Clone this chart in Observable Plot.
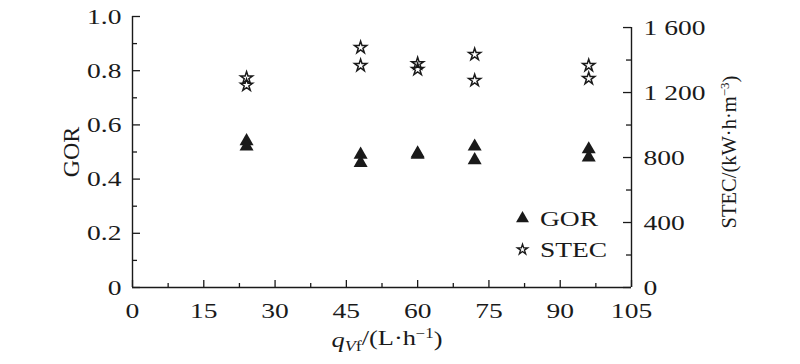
<!DOCTYPE html>
<html><head><meta charset="utf-8">
<script src="https://cdn.jsdelivr.net/npm/d3@7"></script>
<script src="https://cdn.jsdelivr.net/npm/@observablehq/plot@0.6"></script>
<style>body{margin:0;background:#fff}</style>
</head><body><div id="chart"></div>
<script>
const flowRates = [24, 24, 48, 48, 60, 60, 72, 72, 96, 96];
const gorValues = [0.54, 0.52, 0.49, 0.46, 0.495, 0.49, 0.52, 0.47, 0.51, 0.48];
const stecValues = [1290, 1245, 1477, 1366, 1378, 1342, 1434, 1274, 1366, 1286];
const xTicks = [0, 15, 30, 45, 60, 75, 90, 105];
const gorTicks = [0, 0.2, 0.4, 0.6, 0.8, 1.0];
const stecTicks = [0, 400, 800, 1200, 1600];
const xMinor = [7.5, 22.5, 37.5, 52.5, 67.5, 82.5, 97.5];
const gorMinor = [0.1, 0.3, 0.5, 0.7, 0.9];
const stecMinor = [200, 600, 1000, 1400];
const STEC_MAX = 1668;

const W = 800, H = 364, ml = 132, mr = 169, mt = 16, mb = 77;
const fw = W - ml - mr, fh = H - mt - mb;
const font = "'Liberation Serif','Times New Roman',serif";
const ink = "#1a1a1a";
const STRETCH = 1.25;
const data = flowRates.map((q, i) => ({q, gor: gorValues[i], stec: stecValues[i]}));
const s2g = v => v / STEC_MAX;
const gorFmt = d => d === 0 ? "0" : d.toFixed(1);
const stecFmt = d => d >= 1000 ? `${Math.floor(d/1000)} ${String(d%1000).padStart(3,"0")}` : String(d);

const plot = Plot.plot({
  width: W, height: H,
  marginLeft: ml, marginRight: mr, marginTop: mt, marginBottom: mb,
  x: {domain: [0, 105], axis: null},
  y: {domain: [0, 1], axis: null},
  style: {fontFamily: font, fontSize: "22px", color: ink, background: "white"},
  marks: [
    Plot.ruleX([0], {y1: 0, y2: 1, stroke: ink, strokeWidth: 1.4}),
    Plot.ruleX([105], {y1: 0, y2: s2g(1600), stroke: ink, strokeWidth: 1.4}),
    Plot.ruleY([0], {stroke: ink, strokeWidth: 1.4}),
    Plot.tickY(gorTicks, {y: d => d, insetRight: fw - 8, stroke: ink, strokeWidth: 1.3}),
    Plot.tickY(gorMinor, {y: d => d, insetRight: fw - 5, stroke: ink, strokeWidth: 1.3}),
    Plot.tickY(stecTicks, {y: d => s2g(d), insetLeft: fw - 8, stroke: ink, strokeWidth: 1.3}),
    Plot.tickY(stecMinor, {y: d => s2g(d), insetLeft: fw - 5, stroke: ink, strokeWidth: 1.3}),
    Plot.tickX(xTicks, {x: d => d, insetTop: fh - 7, stroke: ink, strokeWidth: 1.3}),
    Plot.tickX(xMinor, {x: d => d, insetTop: fh - 4, stroke: ink, strokeWidth: 1.3}),
    Plot.text(gorTicks, {y: d => d, x: null, frameAnchor: "left", dx: -11, textAnchor: "end", text: gorFmt, fill: ink}),
    Plot.text(stecTicks, {y: d => s2g(d), x: null, frameAnchor: "right", dx: 12, textAnchor: "start", text: stecFmt, fill: ink}),
    Plot.text(xTicks, {x: d => d, y: null, frameAnchor: "bottom", dy: 30, text: d => String(d), fill: ink}),
    Plot.dot(data, {x: "q", y: "gor", symbol: "triangle", r: 5.2, fill: ink, stroke: null}),
    Plot.dot(data, {x: "q", y: d => s2g(d.stec), symbol: "star", r: 3.8, fill: "none", stroke: ink, strokeWidth: 1.5}),
    Plot.dot([0], {x: null, y: null, frameAnchor: "top-left", dx: 390, dy: 202, symbol: "triangle", r: 4.8, fill: ink, stroke: null}),
    Plot.dot([0], {x: null, y: null, frameAnchor: "top-left", dx: 390, dy: 233, symbol: "star", r: 3.2, fill: "none", stroke: ink, strokeWidth: 1.4})
  ]
});
document.getElementById("chart").appendChild(plot);

const svg = d3.select(plot);
// legend labels
svg.append("text").attr("class", "hz").attr("x", 540).attr("y", 218).attr("dy", "0.35em").attr("text-anchor", "start")
  .attr("font-size", 22).attr("fill", ink).text("GOR");
svg.append("text").attr("class", "hz").attr("x", 540).attr("y", 249).attr("dy", "0.35em").attr("text-anchor", "start")
  .attr("font-size", 22).attr("fill", ink).text("STEC");

// left axis title
svg.append("text").attr("transform", "translate(71,152) rotate(-90)").attr("text-anchor", "middle").attr("dy", "0.35em")
  .attr("font-size", 24).attr("fill", ink).text("GOR");
// right axis title
const rt = svg.append("text").attr("transform", "translate(729,152) rotate(-90)").attr("text-anchor", "middle").attr("dy", "0.35em")
  .attr("font-size", 20.5).attr("fill", ink);
rt.append("tspan").text("STEC/(kW·h·m");
rt.append("tspan").attr("font-size", 13).attr("dy", "-0.55em").text("−3");
rt.append("tspan").attr("dy", "0.4em").text(")");
// x axis title (widened like the reference typeface)
const xt = svg.append("text").attr("transform", "translate(387,347) scale(1.2,1)").attr("text-anchor", "middle")
  .attr("font-size", 22).attr("fill", ink);
xt.append("tspan").attr("font-style", "italic").text("q");
xt.append("tspan").attr("font-size", 15).attr("dy", "0.25em").attr("font-style", "italic").text("V");
xt.append("tspan").attr("font-size", 15).text("f");
xt.append("tspan").attr("dy", "-0.25em").text("/(L·h");
xt.append("tspan").attr("font-size", 14).attr("dy", "-0.55em").text("−1");
xt.append("tspan").attr("dy", "0.4em").text(")");

// horizontal widening of the typeface, as in the reference
svg.selectAll("g[aria-label='text'] text, text.hz").each(function () {
  const len = this.getComputedTextLength();
  this.setAttribute("textLength", (len * STRETCH).toFixed(1));
  this.setAttribute("lengthAdjust", "spacingAndGlyphs");
});
</script>
</body></html>
